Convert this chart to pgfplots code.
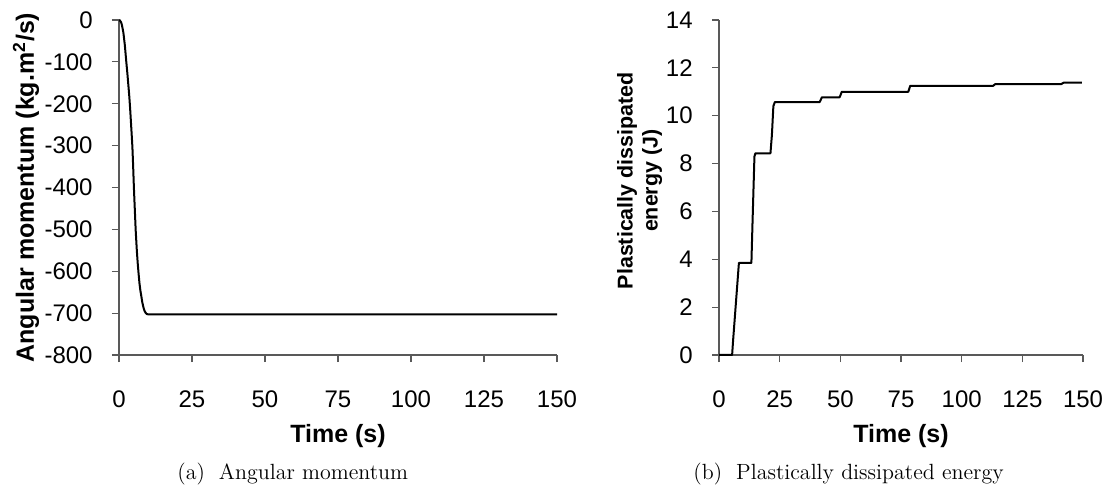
\documentclass[border=0pt]{standalone}
\usepackage{fontspec}
\setsansfont{Liberation Sans}
\usepackage{pgfplots}
\pgfplotsset{compat=1.18}
\pgfplotstableread{
t v
0 0
0.3 -1
0.7 -5
1 -12
1.5 -30
2 -60
2.5 -100
2.9 -130
3.2 -155
3.5 -180
3.8 -210
4.1 -245
4.4 -280
4.6 -305
4.85 -350
5.1 -400
5.4 -450
5.7 -500
6.1 -550
6.4 -580
6.7 -605
7.0 -628
7.3 -645
7.7 -662
8.0 -675
8.4 -687
8.7 -694
9.1 -699
9.5 -702
10 -703
150 -703
}\angtable
\pgfplotstableread{
t e
0 0
5.4 0
5.8 0.6
8.2 3.85
13.35 3.85
13.8 5.5
14.6 8.3
15.0 8.43
21.2 8.43
21.8 9.2
22.4 10.4
23.0 10.57
41.5 10.57
42.4 10.77
49.7 10.77
50.6 11.0
78.0 11.0
78.8 11.25
113.0 11.25
113.8 11.32
141.0 11.32
142.0 11.38
149.5 11.38
}\enertable
\begin{document}
\begin{tikzpicture}
\useasboundingbox (0,0) rectangle (555.5pt,246pt);
\pgfplotsset{
 myax/.style={
  scale only axis, height=167.5pt,
  axis x line=bottom, axis y line=left,
  axis line style={-, draw=black!65, line width=0.6pt},
  every tick/.style={draw=black!65, line width=0.6pt},
  tick align=outside, major tick length=3.5pt,
  /pgf/number format/assume math mode=true,
  ticklabel style={font=\sffamily\fontsize{12}{14}\selectfont, text=black},
  xticklabel style={anchor=north, inner sep=0pt, yshift=-14.2pt},
  yticklabel style={anchor=east, inner sep=0pt, xshift=-9.5pt},
  xmin=0, xmax=150, xtick={0,25,...,150},
  clip=false,
  xlabel style={at={(axis description cs:0.5,-0.2418)}, anchor=center,
    font=\sffamily\bfseries\fontsize{12.5}{14}\selectfont},
 }
}
\begin{axis}[myax, at={(59.5pt,68.5pt)}, anchor=south west, width=219pt,
  ymin=-800, ymax=0, ytick={-800,-700,...,0},
  xlabel={Time (s)},
  ylabel={Angular momentum (kg.m\textsuperscript{2}/s)},
  ylabel style={at={(axis description cs:-0.2123,0.5)}, anchor=center, rotate=0,
    font=\sffamily\bfseries\fontsize{12.5}{14}\selectfont},
]
\addplot[black, line width=1pt, line join=round] table[x=t,y=v]{\angtable};
\end{axis}
\begin{axis}[myax, at={(359.5pt,68.5pt)}, anchor=south west, width=182pt,
  ymin=0, ymax=14, ytick={0,2,...,14},
  xlabel={Time (s)},
  ylabel={Plastically dissipated\\energy (J)},
  ylabel style={at={(axis description cs:-0.2184,0.52)}, anchor=center, align=center,
    font=\sffamily\bfseries\fontsize{10.7}{12.5}\selectfont},
]
\addplot[black, line width=1pt, line join=round] table[x=t,y=e]{\enertable};
\end{axis}
\node[anchor=base west, font=\fontsize{11}{13}\selectfont, inner sep=0pt] at (88.5pt,6.5pt) {(a)\hspace{7pt}Angular momentum};
\node[anchor=base west, font=\fontsize{11}{13}\selectfont, inner sep=0pt] at (346.5pt,6.5pt) {(b)\hspace{7pt}Plastically dissipated energy};
\end{tikzpicture}
\end{document}
